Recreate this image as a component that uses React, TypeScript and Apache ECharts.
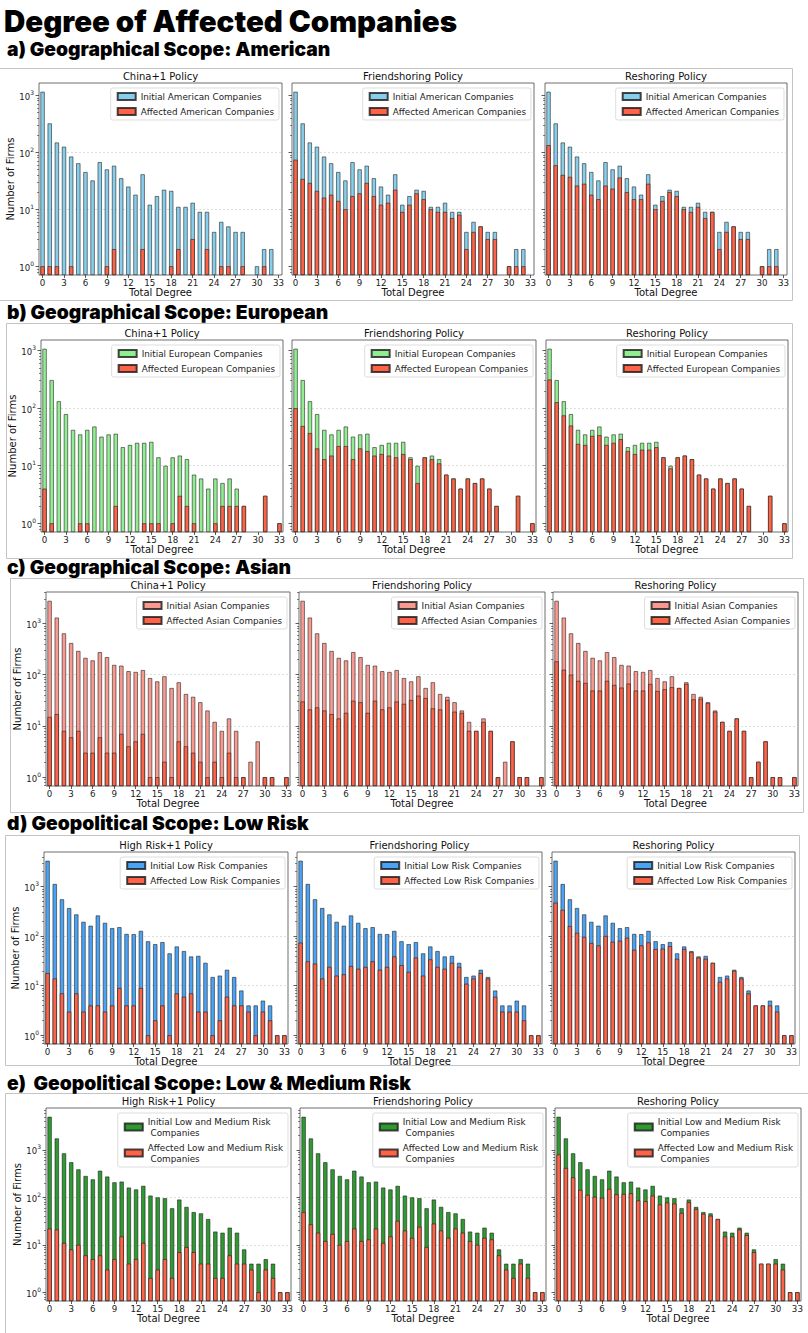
import React, { useEffect, useRef } from 'react';
import * as echarts from 'echarts';

// ---------------- data ----------------
const DEGREES = ['0','1','2','3','4','5','6','7','8','9','10','11','12','13','14','15','16','17','18','19','20','21','22','23','24','25','26','27','28','29','30','31','32','33'];

const GEO_POLICIES = ['China+1 Policy', 'Friendshoring Policy', 'Reshoring Policy'];
const RISK_POLICIES = ['High Risk+1 Policy', 'Friendshoring Policy', 'Reshoring Policy'];

// a) American
const AM_INITIAL = [1150, 320, 148, 125, 84, 64, 45, 32, 67, 50, 58, 35, 25, 18, 41, 12, 17, 22, 21, 11, 11, 13, 9, 9, 4, 6, 5, 4, 4, 0, 1, 2, 2, 0];
const AM_CHINA1 = [1, 1, 1, 0, 1, 0, 0, 0, 0, 1, 2, 0, 0, 0, 2, 0, 0, 0, 1, 2, 0, 3, 0, 2, 0, 1, 1, 0, 1, 0, 0, 1, 0, 0];
const AM_FRIEND = [74, 34, 29, 21, 16, 18, 14, 10, 17, 19, 29, 17, 12, 13, 22, 9, 12, 19, 15, 10, 9, 9, 7, 8, 2, 4, 5, 3, 3, 0, 1, 1, 1, 0];
const AM_RESHORE = [133, 59, 40, 37, 26, 28, 18, 15, 26, 23, 36, 20, 15, 15, 28, 10, 14, 20, 17, 10, 9, 11, 7, 9, 2, 4, 5, 3, 3, 0, 1, 1, 1, 0];

// b) European
const EU_INITIAL = [1080, 308, 132, 79, 42, 35, 42, 48, 32, 35, 36, 21, 23, 25, 25, 26, 14, 10, 14, 15, 13, 7, 6, 4, 6, 5, 6, 4, 2, 0, 0, 3, 0, 1];
const EU_CHINA1 = [4, 1, 0, 0, 0, 1, 1, 0, 0, 0, 2, 0, 0, 0, 1, 1, 1, 0, 1, 3, 2, 1, 0, 0, 1, 2, 2, 2, 2, 0, 0, 3, 0, 1];
const EU_FRIEND = [100, 49, 37, 20, 13, 15, 22, 22, 13, 20, 18, 15, 16, 15, 14, 16, 13, 5, 14, 13, 11, 7, 6, 4, 6, 5, 6, 4, 2, 0, 0, 3, 0, 1];
const EU_RESHORE = [315, 127, 75, 50, 24, 23, 33, 34, 23, 25, 29, 18, 16, 19, 19, 21, 14, 9, 14, 15, 13, 7, 6, 4, 6, 5, 6, 4, 2, 0, 0, 3, 0, 1];

// c) Asian
const AS_INITIAL = [2760, 1300, 640, 415, 290, 213, 190, 275, 220, 155, 150, 117, 113, 123, 86, 74, 93, 55, 71, 42, 37, 29, 20, 12, 8, 14, 8, 1, 2, 5, 1, 1, 0, 1];
const AS_CHINA1 = [15, 17, 8, 6, 8, 3, 3, 6, 3, 3, 7, 4, 5, 7, 1, 1, 2, 1, 5, 4, 3, 2, 1, 2, 1, 3, 1, 1, 0, 0, 1, 1, 0, 1];
const AS_FRIEND = [30, 21, 23, 20, 17, 14, 18, 31, 29, 18, 31, 21, 23, 30, 27, 32, 39, 35, 22, 21, 32, 19, 18, 8, 8, 12, 8, 1, 0, 5, 1, 1, 0, 1];
const AS_RESHORE = [182, 125, 100, 76, 69, 49, 49, 76, 63, 56, 67, 49, 49, 66, 48, 52, 57, 55, 66, 33, 34, 28, 19, 12, 8, 14, 8, 1, 2, 5, 1, 1, 0, 1];

// d) Low risk
const LR_INITIAL = [3330, 1130, 555, 370, 275, 195, 163, 262, 186, 145, 152, 111, 110, 128, 79, 69, 76, 45, 62, 50, 39, 40, 29, 15, 16, 21, 15, 8, 4, 4, 5, 4, 1, 1];
const LR_HR1 = [18, 14, 7, 3, 7, 3, 4, 4, 3, 4, 9, 4, 4, 9, 1, 2, 4, 1, 7, 6, 7, 3, 3, 1, 2, 6, 4, 4, 3, 1, 3, 2, 1, 1];
const LR_FRIEND = [74, 31, 28, 14, 24, 16, 17, 25, 22, 24, 31, 21, 24, 39, 26, 19, 37, 16, 34, 24, 22, 29, 24, 11, 14, 18, 14, 6, 3, 3, 3, 2, 1, 1];
const LR_RESHORE = [475, 340, 160, 117, 97, 73, 65, 101, 77, 81, 93, 53, 65, 75, 55, 56, 63, 35, 55, 48, 37, 35, 29, 12, 14, 20, 14, 7, 4, 4, 4, 3, 1, 1];

// e) Low & medium risk
const LMR_INITIAL = [5000, 1750, 850, 550, 390, 283, 240, 365, 275, 208, 215, 161, 147, 175, 109, 100, 96, 59, 90, 63, 49, 46, 35, 19, 18, 23, 18, 8, 4, 4, 5, 4, 1, 1];
const LMR_HR1 = [22, 21, 11, 8, 10, 6, 5, 6, 3, 5, 15, 4, 5, 11, 2, 3, 5, 2, 7, 9, 7, 4, 4, 2, 2, 6, 4, 4, 3, 1, 3, 2, 1, 1];
const LMR_FRIEND = [49, 27, 18, 12, 17, 10, 12, 22, 12, 13, 22, 11, 15, 32, 20, 14, 24, 9, 28, 20, 14, 22, 18, 12, 10, 14, 13, 6, 3, 2, 4, 2, 1, 1];
const LMR_RESHORE = [800, 417, 265, 144, 113, 103, 98, 151, 116, 118, 122, 86, 83, 109, 71, 78, 74, 47, 79, 57, 45, 41, 35, 15, 15, 21, 16, 7, 4, 4, 4, 3, 1, 1];

const MAIN_TITLE = 'Degree of Affected Companies';

const ROWS = [
  { header: 'a) Geographical Scope: American', policies: GEO_POLICIES, initName: 'Initial American Companies', affName: 'Affected American Companies', initColor: '#87CEEB', initial: AM_INITIAL, affected: [AM_CHINA1, AM_FRIEND, AM_RESHORE] },
  { header: 'b) Geographical Scope: European', policies: GEO_POLICIES, initName: 'Initial European Companies', affName: 'Affected European Companies', initColor: '#90EE90', initial: EU_INITIAL, affected: [EU_CHINA1, EU_FRIEND, EU_RESHORE] },
  { header: 'c) Geographical Scope: Asian', policies: GEO_POLICIES, initName: 'Initial Asian Companies', affName: 'Affected Asian Companies', initColor: '#F89A90', initial: AS_INITIAL, affected: [AS_CHINA1, AS_FRIEND, AS_RESHORE] },
  { header: 'd) Geopolitical Scope: Low Risk', policies: RISK_POLICIES, initName: 'Initial Low Risk Companies', affName: 'Affected Low Risk Companies', initColor: '#4AA3F5', initial: LR_INITIAL, affected: [LR_HR1, LR_FRIEND, LR_RESHORE] },
  { header: 'e)  Geopolitical Scope: Low & Medium Risk', policies: RISK_POLICIES, initName: 'Initial Low and Medium Risk\n Companies', affName: 'Affected Low and Medium Risk\n Companies', initColor: '#2E9A31', initial: LMR_INITIAL, affected: [LMR_HR1, LMR_FRIEND, LMR_RESHORE] },
];

// ---------------- layout (pixels) ----------------
const LAYOUT = [
  { top: 83, bottom: 275, lefts: [39, 292, 545], rights: [282, 534, 787], titleY: 76, headerY: 49, yNameX: 13, box: [-2, 68, 794, 232] },
  { top: 340, bottom: 532, lefts: [41, 292, 546], rights: [283, 536, 788], titleY: 333, headerY: 312, yNameX: 15, box: [6, 323, 786, 235] },
  { top: 592, bottom: 786, lefts: [46, 299, 553], rights: [290, 545, 798], titleY: 585, headerY: 567, yNameX: 20, box: [10, 578, 793, 234] },
  { top: 852, bottom: 1044, lefts: [44, 297, 552], rights: [288, 542, 795], titleY: 845, headerY: 823, yNameX: 18, box: [5, 835, 794, 230] },
  { top: 1108, bottom: 1301, lefts: [46, 300, 555], rights: [291, 546, 801], titleY: 1101, headerY: 1083, yNameX: 20, box: [5, 1093, 810, 260] },
];

const FONT = "'DejaVu Sans', sans-serif";
const HEAD_FONT = "Inter, 'Noto Sans', sans-serif";
const AFFECTED_COLOR = '#FF6347';
const EDGE = 'rgba(25,25,25,0.8)';

function toBars(arr: number[]) {
  return arr.map((v) => (v > 0 ? v : null));
}

function buildOption() {
  const grid: any[] = [];
  const xAxis: any[] = [];
  const yAxis: any[] = [];
  const series: any[] = [];
  const legend: any[] = [];
  const graphic: any[] = [];

  graphic.push({
    type: 'text', x: 4, y: 21,
    style: { text: MAIN_TITLE, fontFamily: HEAD_FONT, fontWeight: 900, fontSize: 29.5, fill: '#000', verticalAlign: 'middle' },
  });

  ROWS.forEach((row, r) => {
    const L = LAYOUT[r];
    const lg = Math.log10(Math.max(...row.initial));
    const ymin = Math.pow(10, -0.05 * lg);
    const ymax = Math.pow(10, 1.05 * lg);
    const majors = [1, 10, 100, 1000, 10000].filter((v) => v >= ymin && v <= ymax);
    const minors: number[] = [];
    [0.1, 1, 10, 100, 1000, 10000].forEach((d) => {
      for (let k = 2; k <= 9; k++) {
        const v = d * k;
        if (v > ymin && v < ymax) minors.push(v);
      }
    });

    graphic.push({
      type: 'rect', silent: true,
      shape: { x: L.box[0] + 0.5, y: L.box[1] + 0.5, width: L.box[2], height: L.box[3] },
      style: { fill: 'none', stroke: '#c4c4c4', lineWidth: 1 },
    });
    graphic.push({
      type: 'text', x: 7, y: L.headerY,
      style: { text: row.header, fontFamily: HEAD_FONT, fontWeight: 900, fontSize: 19.3, fill: '#000', verticalAlign: 'middle' },
    });

    for (let c = 0; c < 3; c++) {
      const gi = r * 3 + c;
      const left = L.lefts[c];
      const right = L.rights[c];
      grid.push({
        left, top: L.top, width: right - left, height: L.bottom - L.top,
        show: true, borderColor: '#4a4a4a', borderWidth: 0.8, backgroundColor: 'rgba(0,0,0,0)', containLabel: false,
      });
      xAxis.push({
        gridIndex: gi, type: 'category', data: DEGREES, boundaryGap: true,
        axisLine: { show: false },
        axisTick: { show: true, alignWithLabel: true, interval: 2, length: 3, lineStyle: { color: '#333', width: 0.8 } },
        axisLabel: { interval: 2, fontSize: 8.7, color: '#222', margin: 3, fontFamily: FONT },
        splitLine: { show: false },
        name: 'Total Degree', nameLocation: 'middle', nameGap: 12,
        nameTextStyle: { fontSize: 10, color: '#111', fontFamily: FONT },
      });
      yAxis.push({
        gridIndex: gi, type: 'log', logBase: 10, min: ymin, max: ymax, startValue: ymin,
        axisLine: { show: false },
        axisTick: { show: true, length: 3.5, customValues: majors, lineStyle: { color: '#333', width: 0.8 } },
        axisLabel: {
          show: c === 0, customValues: majors, margin: 5, fontFamily: FONT,
          formatter: (v: number) => {
            const e = Math.round(Math.log10(v));
            return `{b|10}{s|${e}}`;
          },
          rich: {
            b: { fontSize: 8.5, color: '#222', fontFamily: FONT, lineHeight: 12, verticalAlign: 'bottom' },
            s: { fontSize: 6, color: '#222', fontFamily: FONT, lineHeight: 8, verticalAlign: 'top' },
          },
        },
        splitLine: { show: true, showMinLine: false, showMaxLine: false, lineStyle: { type: [2, 2], color: '#cfcfcf', width: 0.7 } },
        name: c === 0 ? 'Number of Firms' : '', nameLocation: 'middle', nameGap: left - L.yNameX - 5,
        nameTextStyle: { fontSize: 10, color: '#111', fontFamily: FONT },
      });
      yAxis.push({
        gridIndex: gi, type: 'log', logBase: 10, min: ymin, max: ymax,
        position: 'left', axisLine: { show: false },
        axisTick: { show: true, length: 2, customValues: minors, lineStyle: { color: '#333', width: 0.6 } },
        axisLabel: { show: false }, splitLine: { show: false },
      });
      const yIdx = gi * 2;
      series.push({
        type: 'bar', name: row.initName, xAxisIndex: gi, yAxisIndex: yIdx,
        data: toBars(row.initial), barWidth: '60%', barGap: '-100%', silent: true,
        itemStyle: { color: row.initColor, borderColor: EDGE, borderWidth: 0.7 },
      });
      series.push({
        type: 'bar', name: row.affName, xAxisIndex: gi, yAxisIndex: yIdx,
        data: toBars(row.affected[c]), barWidth: '60%', barGap: '-100%', silent: true,
        itemStyle: { color: AFFECTED_COLOR, borderColor: EDGE, borderWidth: 0.7 },
      });
      legend.push({
        data: [row.initName, row.affName], orient: 'vertical',
        right: 808 - (right - 3), top: L.top + 5,
        icon: 'rect', itemWidth: 18, itemHeight: 7, itemGap: 4,
        selectedMode: false,
        textStyle: { fontSize: 8.8, color: '#222', fontFamily: FONT, lineHeight: 11 },
        borderColor: '#d4d4d4', borderWidth: 0.8, borderRadius: 2,
        padding: [3, 5, 3, 6], backgroundColor: 'rgba(255,255,255,0.85)',
      });
      graphic.push({
        type: 'text', x: (left + right) / 2, y: L.titleY,
        style: { text: row.policies[c], fontFamily: FONT, fontSize: 10, fill: '#111', align: 'center', verticalAlign: 'middle' },
      });
    }
  });

  return { animation: false, backgroundColor: '#fff', grid, xAxis, yAxis, series, legend, graphic };
}

export default function App() {
  const ref = useRef<HTMLDivElement>(null);
  useEffect(() => {
    if (!ref.current) return;
    const chart = echarts.init(ref.current, undefined, { renderer: 'svg' });
    chart.setOption(buildOption() as any);
    return () => chart.dispose();
  }, []);
  return <div ref={ref} style={{ position: 'absolute', left: 0, top: 0, width: 808, height: 1333, background: '#fff' }} />;
}
